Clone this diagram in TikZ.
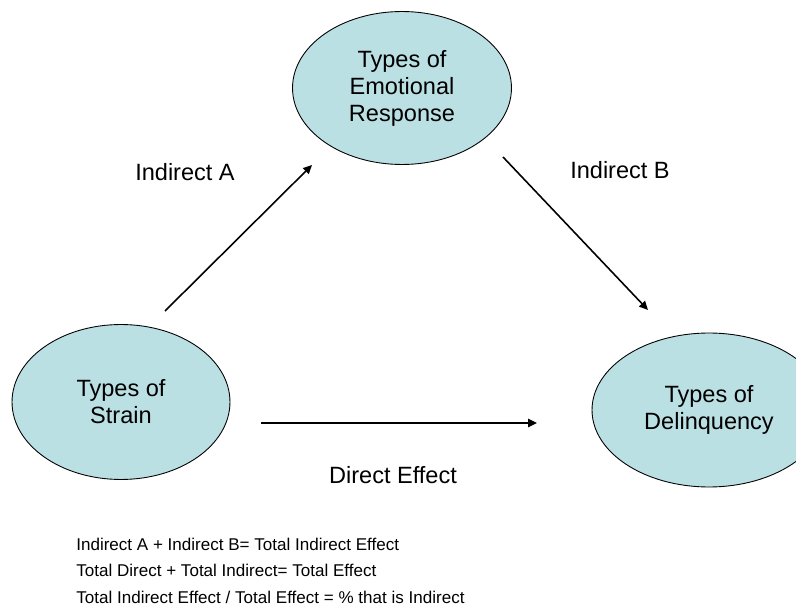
\documentclass[tikz,border=0pt]{standalone}
\usepackage{fontspec}
\setmainfont{Liberation Sans}
\usetikzlibrary{shapes.geometric,arrows.meta}
\definecolor{ovalfill}{RGB}{187,224,227}
\tikzset{
	oval/.style={ellipse, draw=black, fill=ovalfill, line width=0.5pt, inner sep=0pt, align=center, font=\fontsize{13.4}{15.4}\selectfont},
	pathtext/.style={font=\fontsize{13.4}{15.4}\selectfont},
	notetext/.style={anchor=west, inner sep=0pt, font=\fontsize{9.7}{11}\selectfont},
	effect/.style={line width=0.9pt, -{Triangle[length=5pt,width=4.6pt]}}
}

\begin{document}
\begin{tikzpicture}[x=0.02cm, y=-0.02cm]
			%%%%% START %%%%%
			\useasboundingbox (0, 0) rectangle (796, 608);
			
			\node[oval, minimum width=4.38cm, minimum height=3.06cm] (emotion) at (402, 88) {Types of\\Emotional\\Response};
			\node[oval, minimum width=4.36cm, minimum height=3.1cm] (strain) at (121, 402) {Types of\\Strain};
			\node[oval, minimum width=4.68cm, minimum height=3.08cm] (delinq) at (709, 410) {Types of\\Delinquency};
			
			\coordinate (a1) at (165, 311);
			\coordinate (a2) at (312, 165);
			\coordinate (b1) at (503, 157);
			\coordinate (b2) at (648, 310);
			\coordinate (d1) at (261, 423);
			\coordinate (d2) at (537, 423);
			
			\draw[effect] (a1) -- (a2);
			\draw[effect] (b1) -- (b2);
			\draw[effect] (d1) -- (d2);
			
			\node[pathtext] (indA) at (185, 172) {Indirect A};
			\node[pathtext] (indB) at (620, 170) {Indirect B};
			\node[pathtext] (direct) at (393, 475) {Direct Effect};
			
			\node[notetext] (note1) at (76, 544) {Indirect A + Indirect B= Total Indirect Effect};
			\node[notetext] (note2) at (76, 570) {Total Direct + Total Indirect= Total Effect};
			\node[notetext] (note3) at (76, 597) {Total Indirect Effect / Total Effect = \% that is Indirect};
			%%%%% END %%%%%
\end{tikzpicture}
\end{document}
